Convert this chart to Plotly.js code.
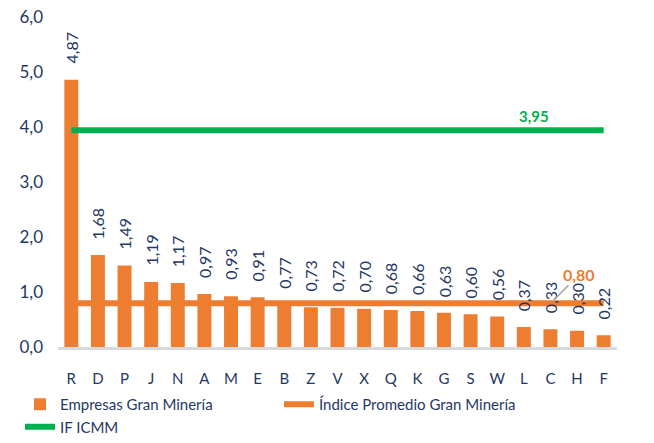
<!DOCTYPE html>
<html><head><meta charset="utf-8">
<script src="https://cdn.plot.ly/plotly-3.0.1.min.js"></script>
<style>html,body{margin:0;padding:0;background:#fff}#chart{width:654px;height:443px}</style>
</head><body><div id="chart"></div>
<script>
const categories = ['R','D','P','J','N','A','M','E','B','Z','V','X','Q','K','G','S','W','L','C','H','F'];
const empresas = [4.87,1.68,1.49,1.19,1.17,0.97,0.93,0.91,0.77,0.73,0.72,0.70,0.68,0.66,0.63,0.60,0.56,0.37,0.33,0.30,0.22];
const indicePromedio = 0.80;
const ifIcmm = 3.95;
const yTicks = [0,1,2,3,4,5,6];

const navy = '#1F3864';
const orange = '#ED7D31';
const green = '#00B050';
const font = 'Lato, "Open Sans", sans-serif';

const traces = [
  {type:'bar', name:'Empresas Gran Minería', x:categories, y:empresas,
   marker:{color:orange}, hoverinfo:'skip'},
  {type:'scatter', mode:'lines', name:'Índice Promedio Gran Minería', x:categories,
   y:categories.map(()=>indicePromedio), line:{color:orange,width:6}, hoverinfo:'skip'},
  {type:'scatter', mode:'lines', name:'IF ICMM', x:categories,
   y:categories.map(()=>ifIcmm), line:{color:green,width:6}, hoverinfo:'skip'}
];

const fmt = v => v.toFixed(2).replace('.',',');
const annotations = categories.map((c,i)=>({
  x:c, y:empresas[i], xref:'x', yref:'y', text:fmt(empresas[i]),
  textangle:-90, showarrow:false, yanchor:'bottom', xanchor:'center', yshift:14,
  font:{family:font,size:16,color:navy}
}));
annotations.push({x:17.4, y:ifIcmm, xref:'x', yref:'y', text:'<b>'+fmt(ifIcmm)+'</b>',
  showarrow:false, yanchor:'bottom', yshift:3, font:{family:font,size:15,color:green}});
annotations.push({x:18, y:indicePromedio, xref:'x', yref:'y', text:'<b>'+fmt(indicePromedio)+'</b>',
  showarrow:true, arrowhead:0, arrowwidth:1.5, arrowcolor:'#A6A6A6', ax:29, ay:-29, standoff:3,
  font:{family:font,size:16,color:orange}});

const layout = {
  width:654, height:443,
  margin:{l:0,r:0,t:0,b:0},
  paper_bgcolor:'#fff', plot_bgcolor:'#fff',
  separators:',.',
  bargap:0.475,
  font:{family:font,color:navy},
  showlegend:true,
  legend:{orientation:'h', x:0.0306, y:0.0993, xanchor:'left', yanchor:'top',
          entrywidth:214, entrywidthmode:'pixels', font:{family:font,size:15,color:navy},
          traceorder:'normal'},
  xaxis:{type:'category', domain:[58/654, 617/654], showgrid:false, zeroline:false, showline:true,
         linecolor:'#D9D9D9', linewidth:3, automargin:false,
         ticks:'', tickfont:{family:font,size:15,color:navy}, ticklabelstandoff:16, fixedrange:true},
  yaxis:{range:[0,6], domain:[86/443, 425/443], tickvals:yTicks, tickformat:'.1f', showgrid:false,
         zeroline:false, showline:false, automargin:false,
         ticks:'', tickfont:{family:font,size:17,color:navy}, ticklabelstandoff:14, fixedrange:true},
  annotations:annotations
};
Plotly.newPlot('chart', traces, layout, {displayModeBar:false, staticPlot:true});
</script></body></html>
